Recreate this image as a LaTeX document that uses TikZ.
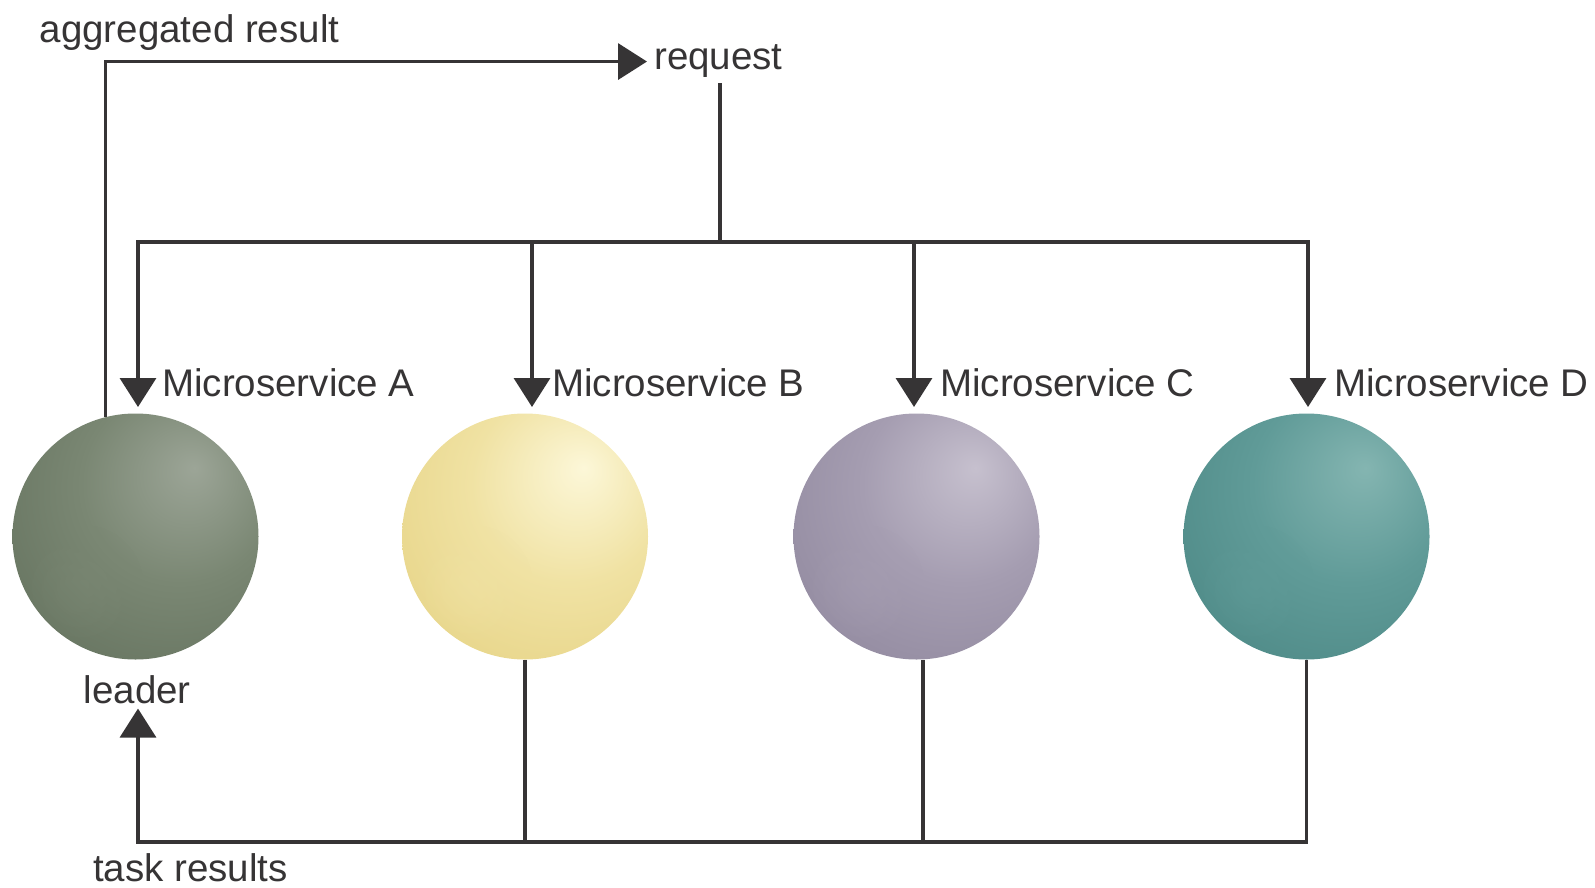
\documentclass[tikz,border=0pt]{standalone}
\usepackage{fontspec}
\setmainfont{Liberation Sans}
\usetikzlibrary{arrows.meta,calc,fadings}
\definecolor{lineC}{HTML}{363435}
\definecolor{hiA}{HTML}{9CA597}\definecolor{midA}{HTML}{7A8773}\definecolor{baseA}{HTML}{606E5A}
\definecolor{hiB}{HTML}{FCF7D8}\definecolor{midB}{HTML}{F0E2A3}\definecolor{baseB}{HTML}{E4D07F}
\definecolor{hiC}{HTML}{C6C0CE}\definecolor{midC}{HTML}{A59DB1}\definecolor{baseC}{HTML}{8C849A}
\definecolor{hiD}{HTML}{84B5B1}\definecolor{midD}{HTML}{609B98}\definecolor{baseD}{HTML}{488481}
\pgfdeclareradialshading{sphA}{\pgfpoint{12bp}{14bp}}{color(0bp)=(hiA); color(20bp)=(midA); color(46bp)=(baseA); color(80bp)=(baseA)}
\pgfdeclareradialshading{sphB}{\pgfpoint{12bp}{14bp}}{color(0bp)=(hiB); color(20bp)=(midB); color(46bp)=(baseB); color(80bp)=(baseB)}
\pgfdeclareradialshading{sphC}{\pgfpoint{12bp}{14bp}}{color(0bp)=(hiC); color(20bp)=(midC); color(46bp)=(baseC); color(80bp)=(baseC)}
\pgfdeclareradialshading{sphD}{\pgfpoint{12bp}{14bp}}{color(0bp)=(hiD); color(20bp)=(midD); color(46bp)=(baseD); color(80bp)=(baseD)}
\tikzfading[name=softspot, inner color=transparent!0, outer color=transparent!100]
\tikzset{
  sphere/.style={circle, minimum size=246pt, inner sep=0pt, shade, shading=#1},
  spot/.style={fill=#1, opacity=0.55, path fading=softspot},
  lbl/.style={anchor=base west, inner sep=0pt, text=lineC, font=\fontsize{38.5pt}{44pt}\selectfont},
  conn/.style={draw=lineC, line width=3.5pt},
  arr/.style={conn, -{Triangle[width=36pt,length=29pt]}},
}
\begin{document}
\begin{tikzpicture}[x=1pt,y=-1pt]
\useasboundingbox (0,0) rectangle (1595,888);
% spheres
\node[sphere=sphA] (A) at (135.5,536.5) {};
\node[sphere=sphB] (B) at (525,536.5) {};
\node[sphere=sphC] (C) at (916.5,536.5) {};
\node[sphere=sphD] (D) at (1306.5,536.5) {};
% soft lower-left light patches
\begin{scope}\clip (A.center) circle (122pt);
  \fill[spot=midA] ($(A.center)+(-52,48)$) circle (60pt);\end{scope}
\begin{scope}\clip (B.center) circle (122pt);
  \fill[spot=midB] ($(B.center)+(-52,48)$) circle (60pt);\end{scope}
\begin{scope}\clip (C.center) circle (122pt);
  \fill[spot=midC] ($(C.center)+(-52,48)$) circle (60pt);\end{scope}
\begin{scope}\clip (D.center) circle (122pt);
  \fill[spot=midD] ($(D.center)+(-52,48)$) circle (60pt);\end{scope}
% texts
\node[lbl] (agg) at (39.5,43) {aggregated result};
\node[lbl, inner xsep=7pt, inner ysep=5pt] (request) at (647,70) {request};
\node[lbl] (lA) at (162,396) {Microservice A};
\node[lbl] (lB) at (552,396) {Microservice B};
\node[lbl] (lC) at (940,396) {Microservice C};
\node[lbl] (lD) at (1334,396) {Microservice D};
\node[lbl, inner ysep=5pt] (leader) at (83.5,703) {leader};
\node[lbl] (task) at (93,881) {task results};
% coordinates
\coordinate (hub) at (720,242);
\coordinate (tA) at (138,407);
\coordinate (tB) at (532,407);
\coordinate (tC) at (914,407);
\coordinate (tD) at (1308,407);
\coordinate (bl) at (138,842);
% aggregated result back to request
\draw[arr] (A.104) |- (request.west);
% request fan-out
\draw[conn] (hub |- request.south) -- (hub);
\draw[arr] (hub) -| (tA);
\draw[arr] (hub) -| (tB);
\draw[arr] (hub) -| (tC);
\draw[arr] (hub) -| (tD);
% task results
\draw[conn] (B.south) -- (B.south |- bl);
\draw[conn] (C.-87) -- (C.-87 |- bl);
\draw[arr] (D.south) |- (bl) -- (bl |- leader.south);
\end{tikzpicture}
\end{document}
